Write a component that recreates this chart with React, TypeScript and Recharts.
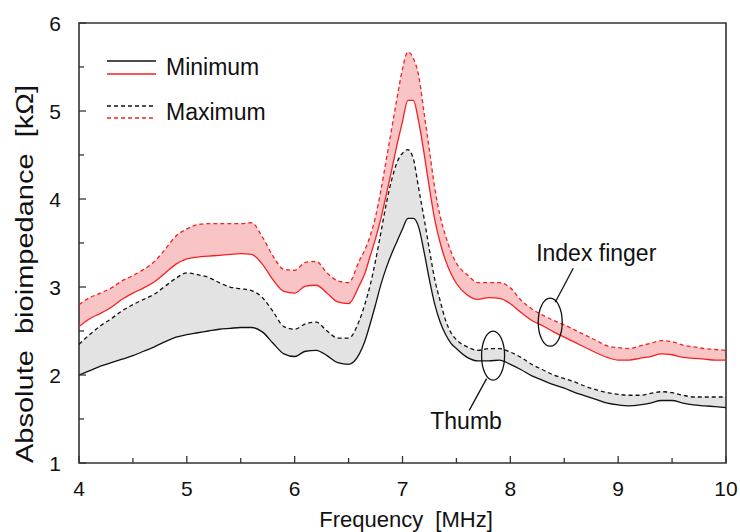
import React from "react";
import {
  ComposedChart,
  Area,
  Line,
  XAxis,
  YAxis,
  ReferenceArea,
  ReferenceDot,
} from "recharts";

// frequency in MHz
const freq = [
  4.0, 4.1, 4.2, 4.3, 4.4, 4.5, 4.6, 4.7, 4.8, 4.9,
  5.0, 5.1, 5.2, 5.3, 5.4, 5.5, 5.6, 5.7, 5.8, 5.9,
  6.0, 6.1, 6.2, 6.3, 6.4, 6.5, 6.6, 6.65, 6.7, 6.75,
  6.8, 6.85, 6.9, 6.95, 7.0, 7.05, 7.1, 7.15, 7.2, 7.25,
  7.3, 7.35, 7.4, 7.45, 7.5, 7.6, 7.7, 7.8, 7.9, 8.0,
  8.1, 8.2, 8.3, 8.4, 8.5, 8.6, 8.7, 8.8, 8.9, 9.0,
  9.1, 9.2, 9.3, 9.4, 9.5, 9.6, 9.7, 9.8, 9.9, 10.0,
];

// absolute bioimpedance in kOhm
const thumbMin = [
  2.0, 2.05, 2.1, 2.14, 2.18, 2.22, 2.27, 2.32, 2.38, 2.43,
  2.46, 2.48, 2.5, 2.52, 2.53, 2.54, 2.54, 2.49, 2.36, 2.24,
  2.21, 2.27, 2.28, 2.22, 2.14, 2.12, 2.24, 2.38, 2.58, 2.8,
  3.03, 3.22, 3.38, 3.52, 3.66, 3.78, 3.78, 3.68, 3.4, 3.08,
  2.8, 2.6, 2.46, 2.36, 2.3, 2.2, 2.16, 2.16, 2.17, 2.12,
  2.06, 1.99, 1.94, 1.89, 1.85, 1.8, 1.76, 1.72, 1.68, 1.66,
  1.65, 1.66, 1.68, 1.71, 1.71, 1.68, 1.66, 1.65, 1.64, 1.63,
];
const thumbMax = [
  2.35, 2.46, 2.56, 2.64, 2.73, 2.8, 2.86, 2.92, 3.01, 3.1,
  3.16, 3.14, 3.11, 3.05, 3.0, 2.98, 2.96, 2.88, 2.72, 2.55,
  2.52, 2.58, 2.6, 2.5, 2.42, 2.42, 2.62, 2.8, 3.02, 3.3,
  3.62, 3.95, 4.22, 4.42, 4.52, 4.56, 4.46, 4.12, 3.78, 3.42,
  3.08, 2.84, 2.62, 2.48, 2.4, 2.32, 2.28, 2.3, 2.3, 2.26,
  2.2, 2.12, 2.06, 2.0, 1.96, 1.92, 1.87, 1.83, 1.8, 1.78,
  1.77, 1.77, 1.79, 1.81, 1.8, 1.77, 1.75, 1.75, 1.75, 1.75,
];
const indexMin = [
  2.55, 2.64, 2.7, 2.77, 2.86, 2.93, 2.99, 3.06, 3.16, 3.26,
  3.32, 3.34, 3.35, 3.36, 3.37, 3.38, 3.37, 3.26, 3.08, 2.95,
  2.93, 3.01, 3.02, 2.93, 2.83, 2.81, 3.02, 3.15, 3.35, 3.55,
  3.78, 4.05, 4.33, 4.62, 4.88, 5.12, 5.12, 4.88, 4.52, 4.12,
  3.76, 3.5, 3.3, 3.15, 3.04, 2.91, 2.86, 2.88, 2.87, 2.81,
  2.71, 2.62, 2.56, 2.49, 2.43, 2.37, 2.31, 2.25, 2.2, 2.17,
  2.17, 2.19, 2.21, 2.24, 2.23, 2.2, 2.19, 2.18, 2.17, 2.17,
];
const indexMax = [
  2.8, 2.88, 2.93, 2.99, 3.07, 3.13, 3.2, 3.29, 3.43, 3.58,
  3.66, 3.71, 3.72, 3.72, 3.72, 3.72, 3.73, 3.57, 3.35, 3.2,
  3.19, 3.28, 3.29, 3.16, 3.07, 3.05, 3.3, 3.42, 3.58, 3.8,
  4.1, 4.45, 4.8, 5.15, 5.48, 5.67, 5.6, 5.4, 4.98, 4.55,
  4.12, 3.8, 3.58, 3.4, 3.27, 3.14, 3.05, 3.05, 3.05, 2.99,
  2.85, 2.75, 2.68, 2.62, 2.57, 2.51, 2.45, 2.39, 2.33, 2.31,
  2.3, 2.33, 2.36, 2.39, 2.38, 2.34, 2.32, 2.3, 2.29, 2.28,
];

const xTicks = [4, 4.5, 5, 5.5, 6, 6.5, 7, 7.5, 8, 8.5, 9, 9.5, 10];
const yTicks = [1, 1.5, 2, 2.5, 3, 3.5, 4, 4.5, 5, 5.5, 6];

// where the ellipse call-outs sit (MHz, kOhm)
const indexNote = { f: 8.37, v: 2.6 };
const thumbNote = { f: 7.84, v: 2.22 };

const data = freq.map((f, i) => ({
  f,
  thumbMin: thumbMin[i],
  thumbMax: thumbMax[i],
  indexMin: indexMin[i],
  indexMax: indexMax[i],
  thumbRange: [thumbMin[i], thumbMax[i]],
  indexRange: [indexMin[i], indexMax[i]],
}));

const W = 740;
const H = 532;
const PLOT_LEFT = 79;
const PLOT_BOTTOM = 463;
const FONT = "'Liberation Sans', Arial, sans-serif";
const RED = "#f52020";
const INK = "#111";
const AXIS = "#333";

const XTick = (props: any) => {
  const { payload } = props;
  const c = payload.coordinate;
  const major = Number.isInteger(payload.value);
  return (
    <g>
      <line x1={c} x2={c} y1={PLOT_BOTTOM} y2={PLOT_BOTTOM - (major ? 7 : 5)} stroke={AXIS} strokeWidth={1.3} />
      {major && (
        <text x={c} y={496} textAnchor="middle" fontSize={21} fill={INK} fontFamily={FONT}>
          {payload.value}
        </text>
      )}
    </g>
  );
};

const YTick = (props: any) => {
  const { payload } = props;
  const c = payload.coordinate;
  const major = Number.isInteger(payload.value);
  return (
    <g>
      <line x1={PLOT_LEFT} x2={PLOT_LEFT + (major ? 7 : 5)} y1={c} y2={c} stroke={AXIS} strokeWidth={1.3} />
      {major && (
        <text x={61} y={c + 7.5} textAnchor="end" fontSize={21} fill={INK} fontFamily={FONT}>
          {payload.value}
        </text>
      )}
    </g>
  );
};

const IndexCallout = (props: any) => {
  const { cx, cy } = props;
  return (
    <g>
      <ellipse cx={cx} cy={cy} rx={12} ry={24} fill="none" stroke={INK} strokeWidth={1.3} />
      <line x1={cx + 5} y1={cy - 20} x2={cx + 23} y2={cy - 54} stroke={INK} strokeWidth={1.3} />
      <text x={cx + 46} y={cy - 61} textAnchor="middle" fontSize={23} fill={INK} fontFamily={FONT}>
        Index finger
      </text>
    </g>
  );
};

const ThumbCallout = (props: any) => {
  const { cx, cy } = props;
  return (
    <g>
      <ellipse cx={cx} cy={cy} rx={11.5} ry={24.5} fill="none" stroke={INK} strokeWidth={1.3} />
      <line x1={cx - 6.5} y1={cy + 23} x2={cx - 24} y2={cy + 55} stroke={INK} strokeWidth={1.3} />
      <text x={cx - 27} y={cy + 73} textAnchor="middle" fontSize={23} fill={INK} fontFamily={FONT}>
        Thumb
      </text>
    </g>
  );
};

export default function App() {
  return (
    <div style={{ position: "absolute", left: 0, top: 0, width: W, height: H, background: "#fff" }}>
      <ComposedChart width={W} height={H} data={data} margin={{ top: 23, right: 14, bottom: 0, left: 0 }}>
        <XAxis
          dataKey="f"
          type="number"
          domain={[4, 10]}
          ticks={xTicks}
          interval={0}
          height={69}
          axisLine={false}
          tickLine={false}
          tick={<XTick />}
        />
        <YAxis
          type="number"
          domain={[1, 6]}
          ticks={yTicks}
          interval={0}
          width={79}
          axisLine={false}
          tickLine={false}
          tick={<YTick />}
        />
        <Area dataKey="thumbRange" type="monotone" stroke="none" fill="#e3e3e3" fillOpacity={1} isAnimationActive={false} />
        <Area dataKey="indexRange" type="monotone" stroke="none" fill="#f9c4c6" fillOpacity={1} isAnimationActive={false} />
        <Line dataKey="thumbMax" type="monotone" stroke={INK} strokeWidth={1.3} strokeDasharray="4 3" dot={false} isAnimationActive={false} />
        <Line dataKey="thumbMin" type="monotone" stroke={INK} strokeWidth={1.3} dot={false} isAnimationActive={false} />
        <Line dataKey="indexMax" type="monotone" stroke={RED} strokeWidth={1.3} strokeDasharray="4 3" dot={false} isAnimationActive={false} />
        <Line dataKey="indexMin" type="monotone" stroke={RED} strokeWidth={1.3} dot={false} isAnimationActive={false} />
        <ReferenceArea x1={4} x2={10} y1={1} y2={6} fill="none" stroke={AXIS} strokeWidth={1.6} ifOverflow="visible" />
        <ReferenceDot x={indexNote.f} y={indexNote.v} shape={<IndexCallout />} />
        <ReferenceDot x={thumbNote.f} y={thumbNote.v} shape={<ThumbCallout />} />
      </ComposedChart>
      <svg width={W} height={H} style={{ position: "absolute", left: 0, top: 0, pointerEvents: "none" }}>
        <g fontFamily={FONT} fill={INK}>
          <line x1={107} x2={156} y1={61} y2={61} stroke={INK} strokeWidth={1.3} />
          <line x1={107} x2={156} y1={74} y2={74} stroke={RED} strokeWidth={1.3} />
          <text x={166} y={75} fontSize={23}>Minimum</text>
          <line x1={107} x2={156} y1={106} y2={106} stroke={INK} strokeWidth={1.3} strokeDasharray="4 3" />
          <line x1={107} x2={156} y1={118} y2={118} stroke={RED} strokeWidth={1.3} strokeDasharray="4 3" />
          <text x={166} y={120} fontSize={23}>Maximum</text>
          <text x={406} y={527} fontSize={22} textAnchor="middle" style={{ whiteSpace: "pre" }}>
            {"Frequency  [MHz]"}
          </text>
          <text
            x={33}
            y={274}
            fontSize={23}
            textAnchor="middle"
            textLength={378}
            lengthAdjust="spacingAndGlyphs"
            transform="rotate(-90 33 274)"
            style={{ whiteSpace: "pre" }}
          >
            {"Absolute  bioimpedance  [kΩ]"}
          </text>
        </g>
      </svg>
    </div>
  );
}
